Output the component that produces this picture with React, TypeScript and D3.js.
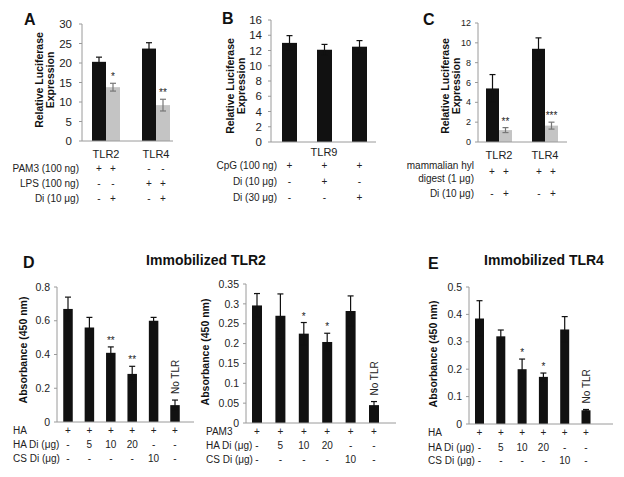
import React from 'react';
import * as d3 from 'd3';

// ---------- Panel A: luciferase, TLR2 / TLR4 ----------
const aGroups = ['TLR2', 'TLR4'];
const aCtrl = [20.3, 23.7];
const aCtrlErr = [1.2, 1.5];
const aDi = [13.8, 9.2];
const aDiErr = [1.0, 1.5];
const aStars = ['*', '**'];
const aTicks = [0, 5, 10, 15, 20, 25, 30];
const aRowLabels = ['PAM3 (100 ng)', 'LPS (100 ng)', 'Di (10 μg)'];
const aRowSigns = [
  ['+', '+', '-', '-'],
  ['-', '-', '+', '+'],
  ['-', '+', '-', '+'],
];

// ---------- Panel B: luciferase, TLR9 ----------
const bGroup = 'TLR9';
const bConds = ['CpG', 'CpG+Di10', 'CpG+Di30'];
const bValues = [13.0, 12.1, 12.5];
const bErr = [0.95, 0.7, 0.8];
const bTicks = [0, 2, 4, 6, 8, 10, 12, 14, 16];
const bRowLabels = ['CpG (100 ng)', 'Di (10 μg)', 'Di (30 μg)'];
const bRowSigns = [
  ['+', '+', '+'],
  ['-', '+', '-'],
  ['-', '-', '+'],
];

// ---------- Panel C: luciferase, hyl digest ----------
const cGroups = ['TLR2', 'TLR4'];
const cCtrl = [5.4, 9.4];
const cCtrlErr = [1.4, 1.1];
const cDi = [1.2, 1.65];
const cDiErr = [0.25, 0.35];
const cStars = ['**', '***'];
const cTicks = [0, 2, 4, 6, 8, 10, 12];
const cRowSigns = [
  ['+', '+', '+', '+'],
  ['-', '+', '-', '+'],
];

// ---------- Panels D / E: immobilized TLR ----------
const dConds = ['c1', 'c2', 'c3', 'c4', 'c5', 'c6'];
const dPlus = ['+', '+', '+', '+', '+', '+'];
const dHaDi = ['-', '5', '10', '20', '-', '-'];
const dCsDi = ['-', '-', '-', '-', '10', '-'];

const d1Values = [0.67, 0.56, 0.41, 0.285, 0.6, 0.1];
const d1Err = [0.07, 0.06, 0.035, 0.045, 0.02, 0.03];
const d1Stars = ['', '', '**', '**', '', ''];
const d1Ticks = [0, 0.2, 0.4, 0.6, 0.8];

const d2Values = [0.296, 0.27, 0.225, 0.204, 0.282, 0.045];
const d2Err = [0.03, 0.055, 0.028, 0.022, 0.038, 0.009];
const d2Stars = ['', '', '*', '*', '', ''];
const d2Ticks = [0, 0.05, 0.1, 0.15, 0.2, 0.25, 0.3, 0.35];

const eValues = [0.385, 0.32, 0.2, 0.172, 0.345, 0.05];
const eErr = [0.065, 0.023, 0.037, 0.014, 0.047, 0.003];
const eStars = ['', '', '*', '*', '', ''];
const eTicks = [0, 0.1, 0.2, 0.3, 0.4, 0.5];

const FONT = '"Liberation Sans", Arial, sans-serif';
const AXIS = '#9a9a9a';
const BLACK = '#111111';
const GREY = '#c4c4c4';
const GREY_ERR = '#777777';

const fmt = (v: number) => String(+v.toFixed(2));

const YAxis = ({ y, x, ticks, fs, gap = 7 }: any) => (
  <g>
    <line x1={x} x2={x} y1={y(0)} y2={y(ticks[ticks.length - 1])} stroke={AXIS} />
    {ticks.map((t: number) => (
      <g key={t}>
        <line x1={x - 3} x2={x} y1={y(t)} y2={y(t)} stroke={AXIS} />
        <text x={x - gap} y={y(t)} dy="0.35em" textAnchor="end" fontSize={fs} fill="#222">
          {fmt(t)}
        </text>
      </g>
    ))}
  </g>
);

const ErrBar = ({ cx, y, v, e, color, cap = 3 }: any) => (
  <g stroke={color} strokeWidth={1.2}>
    <line x1={cx} x2={cx} y1={y(v - e)} y2={y(v + e)} />
    <line x1={cx - cap} x2={cx + cap} y1={y(v + e)} y2={y(v + e)} />
    <line x1={cx - cap} x2={cx + cap} y1={y(v - e)} y2={y(v - e)} />
  </g>
);

const YTitle = ({ lines, x, cy, fs = 10.5 }: any) => (
  <g>
    {lines.map((l: string, i: number) => (
      <text
        key={l}
        transform={`translate(${x + i * 11},${cy}) rotate(-90)`}
        textAnchor="middle"
        fontSize={fs}
        fontWeight="bold"
        fill="#111"
      >
        {l}
      </text>
    ))}
  </g>
);

const Letter = ({ x, y, t }: any) => (
  <text x={x} y={y} fontSize={16} fontWeight="bold" fill="#111">
    {t}
  </text>
);

// grouped luciferase panel (A and C)
const GroupPanel = ({ groups, ctrl, ctrlErr, di, diErr, stars, ticks, L }: any) => {
  const y = d3.scaleLinear().domain([0, ticks[ticks.length - 1]]).range([L.yBottom, L.yTop]);
  const x = d3.scalePoint<string>().domain(groups).range(L.centers);
  const bw = L.bw;
  return (
    <g>
      {groups.map((g: string, i: number) => {
        const cx = x(g)!;
        return (
          <g key={g}>
            <rect x={cx - bw} y={y(ctrl[i])} width={bw} height={y(0) - y(ctrl[i])} fill={BLACK} />
            <rect x={cx} y={y(di[i])} width={bw} height={y(0) - y(di[i])} fill={GREY} />
            <ErrBar cx={cx - bw / 2} y={y} v={ctrl[i]} e={ctrlErr[i]} color={BLACK} />
            <ErrBar cx={cx + bw / 2} y={y} v={di[i]} e={diErr[i]} color={GREY_ERR} />
            <text x={cx + bw / 2} y={y(di[i] + diErr[i]) - 3} textAnchor="middle" fontSize={10} fill="#222">
              {stars[i]}
            </text>
            <text x={cx} y={L.labelY} dy="0.35em" textAnchor="middle" fontSize={11} fill="#222">
              {g}
            </text>
          </g>
        );
      })}
      <YAxis y={y} x={L.axisX} ticks={ticks} fs={L.tickFs} gap={L.gap} />
      <line x1={L.axisX} x2={L.axisEnd} y1={y(0)} y2={y(0)} stroke={AXIS} />
    </g>
  );
};

// immobilized TLR panel (D and E)
const ImmPanel = ({ values, err, stars, ticks, L, firstRow }: any) => {
  const y = d3.scaleLinear().domain([0, ticks[ticks.length - 1]]).range([L.yBottom, L.yTop]);
  const x = d3.scalePoint<string>().domain(dConds).range(L.centers);
  const bw = L.bw;
  const rows = [dPlus, dHaDi, dCsDi];
  const labels = [firstRow, 'HA Di (μg)', 'CS Di (μg)'];
  return (
    <g>
      {dConds.map((c, i) => {
        const cx = x(c)!;
        const top = y(values[i] + err[i]);
        return (
          <g key={c}>
            <rect x={cx - bw / 2} y={y(values[i])} width={bw} height={y(0) - y(values[i])} fill={BLACK} />
            <ErrBar cx={cx} y={y} v={values[i]} e={err[i]} color={BLACK} cap={3} />
            {stars[i] && (
              <text x={cx} y={top - 3} textAnchor="middle" fontSize={10} fill="#222">
                {stars[i]}
              </text>
            )}
            {i === dConds.length - 1 && (
              <text
                transform={`translate(${cx + 3.5},${top - 6}) rotate(-90)`}
                fontSize={10}
                fill="#222"
              >
                No TLR
              </text>
            )}
            {rows.map((r, j) => (
              <text key={j} x={cx} y={L.rowY[j]} dy="0.35em" textAnchor="middle" fontSize={10} fill="#222">
                {r[i]}
              </text>
            ))}
          </g>
        );
      })}
      {labels.map((l, j) => (
        <text key={l} x={L.labelX} y={L.rowY[j]} dy="0.35em" fontSize={10} fill="#222">
          {l}
        </text>
      ))}
      <YAxis y={y} x={L.axisX} ticks={ticks} fs={10.5} gap={7} />
      <line x1={L.axisX} x2={L.axisEnd} y1={y(0)} y2={y(0)} stroke={AXIS} />
      <YTitle lines={['Absorbance (450 nm)']} x={L.titleX} cy={L.titleY} fs={10.5} />
    </g>
  );
};

const App = () => {
  // panel A / C layout
  const LA = { yTop: 24, yBottom: 141, axisX: 82, axisEnd: 173, centers: [106, 156], bw: 14, tickFs: 11.5, labelY: 154, gap: 10 };
  const LC = { yTop: 23, yBottom: 142, axisX: 478, axisEnd: 567, centers: [499, 545], bw: 13, tickFs: 9, labelY: 155, gap: 7 };

  // panel B
  const yB = d3.scaleLinear().domain([0, 16]).range([142, 20]);
  const xB = d3.scalePoint<string>().domain(bConds).range([289.5, 359.5]);
  const bwB = 15;

  const aSignX = [99, 113, 149, 163];
  const cSignX = [492, 506, 539, 553];

  return (
    <svg
      width={624}
      height={477}
      style={{ position: 'absolute', left: 0, top: 0, background: '#fff', fontFamily: FONT }}
    >
      {/* A */}
      <Letter x={24} y={25} t="A" />
      <YTitle lines={['Relative Luciferase', 'Expression']} x={43} cy={80} />
      <GroupPanel groups={aGroups} ctrl={aCtrl} ctrlErr={aCtrlErr} di={aDi} diErr={aDiErr} stars={aStars} ticks={aTicks} L={LA} />
      {aRowLabels.map((l, j) => (
        <g key={l}>
          <text x={79} y={168 + j * 15} dy="0.35em" textAnchor="end" fontSize={10} fill="#222">{l}</text>
          {aRowSigns[j].map((s, i) => (
            <text key={i} x={aSignX[i]} y={168 + j * 15} dy="0.35em" textAnchor="middle" fontSize={10} fill="#222">{s}</text>
          ))}
        </g>
      ))}

      {/* B */}
      <Letter x={222} y={24} t="B" />
      <YTitle lines={['Relative Luciferase', 'Expression']} x={234} cy={86} />
      {bConds.map((c, i) => {
        const cx = xB(c)!;
        return (
          <g key={c}>
            <rect x={cx - bwB / 2} y={yB(bValues[i])} width={bwB} height={yB(0) - yB(bValues[i])} fill={BLACK} />
            <ErrBar cx={cx} y={yB} v={bValues[i]} e={bErr[i]} color={BLACK} />
            {bRowSigns.map((r, j) => (
              <text key={j} x={cx} y={165 + j * 16} dy="0.35em" textAnchor="middle" fontSize={10} fill="#222">{r[i]}</text>
            ))}
          </g>
        );
      })}
      <YAxis y={yB} x={271} ticks={bTicks} fs={11.5} gap={9} />
      <line x1={271} x2={376} y1={yB(0)} y2={yB(0)} stroke={AXIS} />
      <text x={324} y={152} dy="0.35em" textAnchor="middle" fontSize={11} fill="#222">{bGroup}</text>
      {bRowLabels.map((l, j) => (
        <text key={l} x={277} y={165 + j * 16} dy="0.35em" textAnchor="end" fontSize={10} fill="#222">{l}</text>
      ))}

      {/* C */}
      <Letter x={423} y={25} t="C" />
      <YTitle lines={['Relative Luciferase', 'Expression']} x={449} cy={86} />
      <GroupPanel groups={cGroups} ctrl={cCtrl} ctrlErr={cCtrlErr} di={cDi} diErr={cDiErr} stars={cStars} ticks={cTicks} L={LC} />
      <text x={474} y={165} dy="0.35em" textAnchor="end" fontSize={10} fill="#222">mammalian hyl</text>
      <text x={474} y={178} dy="0.35em" textAnchor="end" fontSize={10} fill="#222">digest (1 μg)</text>
      <text x={474} y={193} dy="0.35em" textAnchor="end" fontSize={10} fill="#222">Di (10 μg)</text>
      {cRowSigns.map((r, j) =>
        r.map((s, i) => (
          <text key={`${j}-${i}`} x={cSignX[i]} y={j === 0 ? 171 : 193} dy="0.35em" textAnchor="middle" fontSize={10} fill="#222">{s}</text>
        ))
      )}

      {/* D */}
      <Letter x={23} y={268} t="D" />
      <text x={206} y={265} textAnchor="middle" fontSize={14} fontWeight="bold" fill="#111">Immobilized TLR2</text>
      <ImmPanel
        values={d1Values}
        err={d1Err}
        stars={d1Stars}
        ticks={d1Ticks}
        firstRow="HA"
        L={{ yTop: 287, yBottom: 422, axisX: 57, axisEnd: 194, centers: [68, 175], bw: 9.5, rowY: [430, 444, 458], labelX: 13, titleX: 27, titleY: 350 }}
      />
      <ImmPanel
        values={d2Values}
        err={d2Err}
        stars={d2Stars}
        ticks={d2Ticks}
        firstRow="PAM3"
        L={{ yTop: 284, yBottom: 423, axisX: 246, axisEnd: 396, centers: [257, 374], bw: 10, rowY: [431, 445, 459], labelX: 206, titleX: 209, titleY: 352 }}
      />

      {/* E */}
      <Letter x={428} y={269} t="E" />
      <text x={544} y={265} textAnchor="middle" fontSize={14} fontWeight="bold" fill="#111">Immobilized TLR4</text>
      <ImmPanel
        values={eValues}
        err={eErr}
        stars={eStars}
        ticks={eTicks}
        firstRow="HA"
        L={{ yTop: 287, yBottom: 424, axisX: 469, axisEnd: 613, centers: [479.5, 586], bw: 9, rowY: [432, 447, 460], labelX: 428, titleX: 437, titleY: 354 }}
      />
    </svg>
  );
};

export default App;
